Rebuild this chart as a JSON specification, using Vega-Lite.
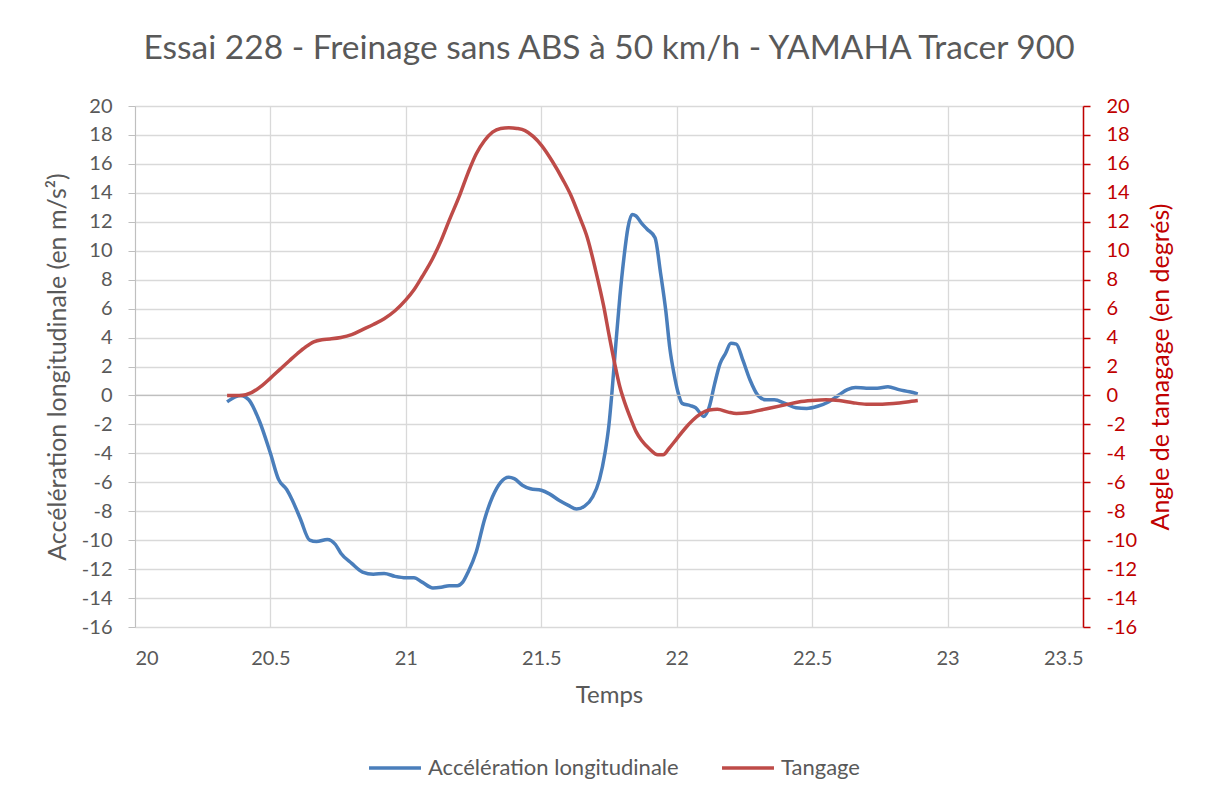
{
  "$schema": "https://vega.github.io/schema/vega-lite/v6.json",
  "width": 948,
  "height": 521,
  "autosize": {"type": "none"},
  "padding": {"left": 135, "top": 106, "right": 126, "bottom": 174},
  "background": "white",
  "title": {
    "text": "Essai 228 - Freinage sans ABS à 50 km/h - YAMAHA Tracer 900",
    "font": "Lato",
    "fontSize": 33.5,
    "fontWeight": "normal",
    "color": "#595959",
    "anchor": "middle",
    "offset": 30
  },
  "config": {
    "view": {"stroke": null},
    "font": "Lato"
  },
  "datasets": {
    "acc": [
      {"t": 20.34, "v": -0.45}, {"t": 20.37, "v": -0.1}, {"t": 20.39, "v": 0.0}, {"t": 20.42, "v": -0.3},
      {"t": 20.46, "v": -1.8}, {"t": 20.5, "v": -4.0}, {"t": 20.53, "v": -5.8}, {"t": 20.56, "v": -6.5},
      {"t": 20.58, "v": -7.2}, {"t": 20.61, "v": -8.5}, {"t": 20.645, "v": -10.0}, {"t": 20.67, "v": -10.1},
      {"t": 20.71, "v": -9.95}, {"t": 20.74, "v": -10.3}, {"t": 20.76, "v": -10.9}, {"t": 20.8, "v": -11.6},
      {"t": 20.84, "v": -12.2}, {"t": 20.88, "v": -12.35}, {"t": 20.92, "v": -12.3}, {"t": 20.96, "v": -12.5},
      {"t": 21.0, "v": -12.6}, {"t": 21.03, "v": -12.6}, {"t": 21.06, "v": -12.9}, {"t": 21.1, "v": -13.3},
      {"t": 21.13, "v": -13.25}, {"t": 21.16, "v": -13.15}, {"t": 21.19, "v": -13.15}, {"t": 21.21, "v": -12.9},
      {"t": 21.23, "v": -12.2}, {"t": 21.26, "v": -10.8}, {"t": 21.29, "v": -8.6}, {"t": 21.32, "v": -7.0},
      {"t": 21.35, "v": -6.0}, {"t": 21.38, "v": -5.65}, {"t": 21.4, "v": -5.75}, {"t": 21.43, "v": -6.2},
      {"t": 21.46, "v": -6.45}, {"t": 21.5, "v": -6.55}, {"t": 21.53, "v": -6.8}, {"t": 21.57, "v": -7.3},
      {"t": 21.6, "v": -7.6}, {"t": 21.63, "v": -7.85}, {"t": 21.66, "v": -7.65}, {"t": 21.69, "v": -7.0},
      {"t": 21.715, "v": -5.8}, {"t": 21.735, "v": -4.0}, {"t": 21.75, "v": -2.0}, {"t": 21.76, "v": 0.0},
      {"t": 21.775, "v": 3.5}, {"t": 21.79, "v": 6.8}, {"t": 21.805, "v": 9.5}, {"t": 21.82, "v": 11.6},
      {"t": 21.835, "v": 12.5}, {"t": 21.85, "v": 12.4}, {"t": 21.87, "v": 11.9}, {"t": 21.89, "v": 11.5},
      {"t": 21.92, "v": 10.9}, {"t": 21.94, "v": 8.5}, {"t": 21.96, "v": 5.8}, {"t": 21.975, "v": 3.2},
      {"t": 21.99, "v": 1.5}, {"t": 22.005, "v": 0.2}, {"t": 22.02, "v": -0.55}, {"t": 22.05, "v": -0.7},
      {"t": 22.07, "v": -0.85}, {"t": 22.1, "v": -1.45}, {"t": 22.12, "v": -0.8}, {"t": 22.14, "v": 0.8},
      {"t": 22.16, "v": 2.2}, {"t": 22.18, "v": 2.9}, {"t": 22.2, "v": 3.6}, {"t": 22.22, "v": 3.55},
      {"t": 22.245, "v": 2.4}, {"t": 22.27, "v": 1.1}, {"t": 22.3, "v": 0.0}, {"t": 22.33, "v": -0.3},
      {"t": 22.36, "v": -0.3}, {"t": 22.4, "v": -0.55}, {"t": 22.44, "v": -0.85}, {"t": 22.48, "v": -0.9},
      {"t": 22.52, "v": -0.75}, {"t": 22.56, "v": -0.45}, {"t": 22.6, "v": 0.05}, {"t": 22.63, "v": 0.4},
      {"t": 22.66, "v": 0.55}, {"t": 22.7, "v": 0.5}, {"t": 22.74, "v": 0.5}, {"t": 22.78, "v": 0.6},
      {"t": 22.82, "v": 0.4}, {"t": 22.86, "v": 0.25}, {"t": 22.89, "v": 0.1}
    ],
    "tang": [
      {"t": 20.34, "v": 0.0}, {"t": 20.39, "v": 0.0}, {"t": 20.43, "v": 0.2}, {"t": 20.47, "v": 0.7},
      {"t": 20.5, "v": 1.2}, {"t": 20.535, "v": 1.8}, {"t": 20.57, "v": 2.4}, {"t": 20.6, "v": 2.9},
      {"t": 20.63, "v": 3.35}, {"t": 20.66, "v": 3.7}, {"t": 20.69, "v": 3.85}, {"t": 20.72, "v": 3.9},
      {"t": 20.76, "v": 4.0}, {"t": 20.8, "v": 4.2}, {"t": 20.84, "v": 4.55}, {"t": 20.88, "v": 4.9},
      {"t": 20.92, "v": 5.3}, {"t": 20.96, "v": 5.85}, {"t": 21.0, "v": 6.6}, {"t": 21.03, "v": 7.3},
      {"t": 21.06, "v": 8.2}, {"t": 21.1, "v": 9.5}, {"t": 21.13, "v": 10.7}, {"t": 21.16, "v": 12.1},
      {"t": 21.2, "v": 13.9}, {"t": 21.23, "v": 15.4}, {"t": 21.26, "v": 16.7}, {"t": 21.29, "v": 17.6},
      {"t": 21.32, "v": 18.2}, {"t": 21.35, "v": 18.45}, {"t": 21.38, "v": 18.5}, {"t": 21.41, "v": 18.45},
      {"t": 21.44, "v": 18.3}, {"t": 21.47, "v": 17.9}, {"t": 21.5, "v": 17.3}, {"t": 21.54, "v": 16.2},
      {"t": 21.58, "v": 14.9}, {"t": 21.61, "v": 13.8}, {"t": 21.64, "v": 12.4}, {"t": 21.67, "v": 10.9},
      {"t": 21.7, "v": 8.7}, {"t": 21.73, "v": 6.2}, {"t": 21.75, "v": 4.2}, {"t": 21.77, "v": 2.3},
      {"t": 21.79, "v": 0.6}, {"t": 21.81, "v": -0.6}, {"t": 21.83, "v": -1.6}, {"t": 21.85, "v": -2.5},
      {"t": 21.87, "v": -3.1}, {"t": 21.9, "v": -3.7}, {"t": 21.93, "v": -4.1}, {"t": 21.95, "v": -4.1},
      {"t": 21.97, "v": -3.7}, {"t": 22.0, "v": -3.0}, {"t": 22.03, "v": -2.3}, {"t": 22.06, "v": -1.7},
      {"t": 22.09, "v": -1.25}, {"t": 22.12, "v": -1.0}, {"t": 22.15, "v": -0.95}, {"t": 22.19, "v": -1.15},
      {"t": 22.22, "v": -1.25}, {"t": 22.26, "v": -1.2}, {"t": 22.3, "v": -1.05}, {"t": 22.35, "v": -0.85},
      {"t": 22.4, "v": -0.65}, {"t": 22.45, "v": -0.45}, {"t": 22.5, "v": -0.35}, {"t": 22.55, "v": -0.3},
      {"t": 22.6, "v": -0.35}, {"t": 22.65, "v": -0.5}, {"t": 22.7, "v": -0.6}, {"t": 22.75, "v": -0.6},
      {"t": 22.8, "v": -0.55}, {"t": 22.85, "v": -0.45}, {"t": 22.89, "v": -0.35}
    ]
  },
  "layer": [
    {
      "data": {"name": "acc"},
      "mark": {"type": "line", "interpolate": "monotone", "strokeWidth": 3.5},
      "encoding": {
        "x": {
          "field": "t", "type": "quantitative",
          "scale": {"domain": [20, 23.5], "nice": false, "zero": false},
          "axis": {
            "title": "Temps",
            "values": [20, 20.5, 21, 21.5, 22, 22.5, 23, 23.5],
            "format": ".1~f",
            "labelFontSize": 20, "labelColor": "#595959", "labelFont": "Lato",
            "domain": false, "ticks": false, "labelPadding": 21,
            "grid": true, "gridColor": "#d9d9d9", "gridWidth": 1.3,
            "titleFontSize": 24, "titleFont": "Lato", "titleFontWeight": "normal",
            "titleColor": "#595959", "titlePadding": 15
          }
        },
        "y": {
          "field": "v", "type": "quantitative",
          "scale": {"domain": [-16, 20], "nice": false},
          "axis": {
            "orient": "left",
            "title": "Accélération longitudinale (en m/s²)",
            "values": [-16, -14, -12, -10, -8, -6, -4, -2, 0, 2, 4, 6, 8, 10, 12, 14, 16, 18, 20],
            "labelExpr": "'' + datum.value",
            "labelFontSize": 20, "labelColor": "#595959", "labelFont": "Lato",
            "domainColor": "#bfbfbf", "tickColor": "#bfbfbf", "tickSize": 7, "labelPadding": 16,
            "grid": true, "gridColor": "#d9d9d9", "gridWidth": 1.3,
            "titleFontSize": 25, "titleFont": "Lato", "titleFontWeight": "normal",
            "titleColor": "#595959", "titlePadding": 11
          }
        },
        "color": {
          "datum": "Accélération longitudinale",
          "type": "nominal",
          "scale": {"domain": ["Accélération longitudinale", "Tangage"], "range": ["#4A7EBB", "#BE4B48"]},
          "legend": {
            "title": null, "orient": "none", "direction": "horizontal",
            "legendX": 232, "legendY": 634,
            "symbolType": "stroke", "symbolSize": 2700, "symbolStrokeWidth": 3.5,
            "labelFontSize": 22, "labelColor": "#595959", "labelFont": "Lato", "labelLimit": 0,
            "labelOffset": 5, "columnPadding": 36
          }
        }
      }
    },
    {
      "data": {"values": [{"z": 0}]},
      "mark": {"type": "rule", "color": "#bfbfbf", "strokeWidth": 1.3},
      "encoding": {
        "y": {"field": "z", "type": "quantitative", "axis": null,
              "scale": {"domain": [-16, 20], "nice": false}}
      }
    },
    {
      "data": {"name": "tang"},
      "mark": {"type": "line", "interpolate": "monotone", "strokeWidth": 3.5},
      "encoding": {
        "x": {"field": "t", "type": "quantitative"},
        "y": {
          "field": "v", "type": "quantitative",
          "scale": {"domain": [-16, 20], "nice": false},
          "axis": {
            "orient": "right",
            "title": "Angle de tanagage (en degrés)",
            "values": [-16, -14, -12, -10, -8, -6, -4, -2, 0, 2, 4, 6, 8, 10, 12, 14, 16, 18, 20],
            "labelExpr": "'' + datum.value",
            "labelFontSize": 20, "labelColor": "#C00000", "labelFont": "Lato",
            "domainColor": "#C00000", "domainWidth": 1.5, "tickColor": "#C00000", "tickWidth": 1.5,
            "tickSize": 7, "labelPadding": 16, "grid": false,
            "titleFontSize": 25, "titleFont": "Lato", "titleFontWeight": "normal",
            "titleColor": "#C00000", "titlePadding": 12, "titleAngle": 270, "titleBaseline": "top"
          }
        },
        "color": {
          "datum": "Tangage",
          "type": "nominal",
          "legend": {
            "title": null, "orient": "none", "direction": "horizontal",
            "legendX": 232, "legendY": 634,
            "symbolType": "stroke", "symbolSize": 2700, "symbolStrokeWidth": 3.5,
            "labelFontSize": 22, "labelColor": "#595959", "labelFont": "Lato", "labelLimit": 0,
            "labelOffset": 5, "columnPadding": 36
          }
        }
      }
    }
  ],
  "resolve": {"scale": {"y": "independent"}, "axis": {"y": "independent"}}
}
